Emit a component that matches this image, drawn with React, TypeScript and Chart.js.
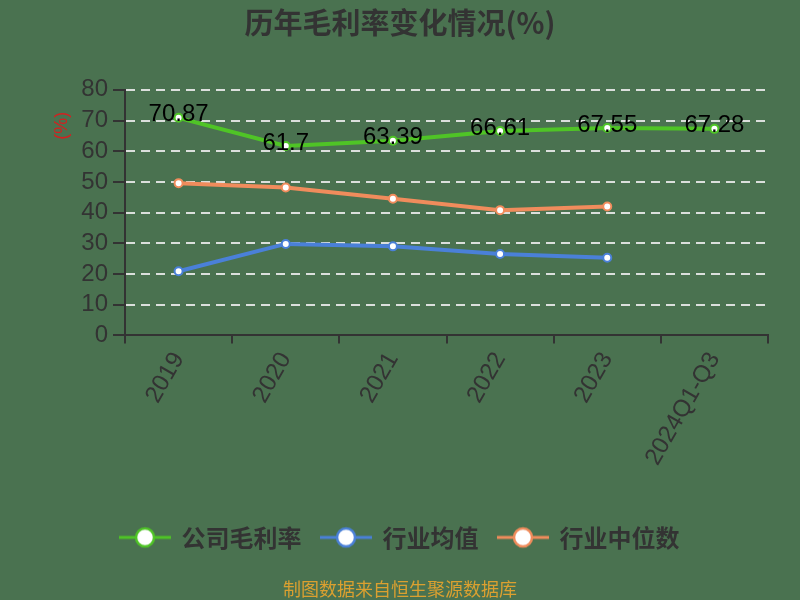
import React, { useEffect, useRef } from "react";
import { Chart, registerables } from "chart.js";

Chart.register(...registerables);

const categories = ["2019", "2020", "2021", "2022", "2023", "2024Q1-Q3"];
const companyMargin = [70.87, 61.7, 63.39, 66.61, 67.55, 67.28];
const industryAvg = [20.9, 29.8, 29.0, 26.5, 25.3, null];
const industryMedian = [49.6, 48.2, 44.5, 40.8, 42.0, null];
const seriesNames = ["公司毛利率", "行业均值", "行业中位数"];
const yTicksMax = 80;

const BG = "#4a7250";
const GREEN = "#4fc426";
const BLUE = "#4a80d8";
const ORANGE = "#f08c5c";
const CJK = '"Noto Sans CJK SC", "DejaVu Sans", sans-serif';
const NUM = '"Liberation Sans", Arial, sans-serif';

function makeIcon(color: string): HTMLCanvasElement {
  const c = document.createElement("canvas");
  c.width = 52;
  c.height = 24;
  const ctx = c.getContext("2d")!;
  ctx.strokeStyle = color;
  ctx.lineWidth = 3;
  ctx.beginPath();
  ctx.moveTo(0, 12);
  ctx.lineTo(52, 12);
  ctx.stroke();
  ctx.beginPath();
  ctx.arc(26, 12, 9, 0, Math.PI * 2);
  ctx.fillStyle = "#ffffff";
  ctx.fill();
  ctx.lineWidth = 2.5;
  ctx.stroke();
  return c;
}

const bgPlugin = {
  id: "bgFill",
  beforeDraw(chart: any) {
    const { ctx, width, height } = chart;
    ctx.save();
    ctx.fillStyle = BG;
    ctx.fillRect(0, 0, width, height);
    ctx.restore();
  },
};

const extrasPlugin = {
  id: "extras",
  afterDatasetsDraw(chart: any) {
    const { ctx, chartArea } = chart;
    const meta = chart.getDatasetMeta(0);
    ctx.save();
    ctx.font = `24px ${NUM}`;
    ctx.fillStyle = "#000000";
    ctx.textAlign = "center";
    ctx.textBaseline = "middle";
    meta.data.forEach((pt: any, i: number) => {
      const v = companyMargin[i];
      if (v == null) return;
      ctx.fillText(String(v), pt.x, pt.y - 3);
    });
    ctx.restore();
    // y axis unit label
    ctx.save();
    ctx.translate(chartArea.left - 63, chartArea.top + 36);
    ctx.rotate(-Math.PI / 2);
    ctx.font = `18px ${NUM}`;
    ctx.fillStyle = "#d42020";
    ctx.textAlign = "center";
    ctx.textBaseline = "middle";
    ctx.fillText("(%)", 0, 0);
    ctx.restore();
  },
};

export default function App() {
  const ref = useRef<HTMLCanvasElement | null>(null);

  useEffect(() => {
    if (!ref.current) return;
    const icons = [makeIcon(GREEN), makeIcon(BLUE), makeIcon(ORANGE)];
    const colors = [GREEN, BLUE, ORANGE];
    const mkSet = (label: string, data: (number | null)[], color: string) => ({
      label,
      data,
      borderColor: color,
      backgroundColor: "#ffffff",
      borderWidth: 4,
      pointRadius: 4,
      pointBorderWidth: 2,
      pointBackgroundColor: "#ffffff",
      pointBorderColor: color,
      yAxisID: "y",
    });
    const chart = new Chart(ref.current, {
      type: "line",
      data: {
        labels: categories,
        datasets: [
          mkSet(seriesNames[0], companyMargin, GREEN),
          mkSet(seriesNames[1], industryAvg, BLUE),
          mkSet(seriesNames[2], industryMedian, ORANGE),
        ],
      },
      options: {
        animation: false,
        responsive: true,
        maintainAspectRatio: false,
        layout: { padding: 0 },
        plugins: {
          title: {
            display: true,
            text: "历年毛利率变化情况(%)",
            color: "#333333",
            font: { family: CJK, size: 29, weight: "bold" },
            padding: { top: 6, bottom: 49 },
          },
          subtitle: {
            display: true,
            position: "bottom",
            text: "制图数据来自恒生聚源数据库",
            color: "#dba030",
            font: { family: CJK, size: 18, weight: "normal" },
            padding: { top: 19, bottom: 0 },
          },
          legend: {
            display: true,
            position: "bottom",
            labels: {
              usePointStyle: true,
              pointStyleWidth: 49,
              padding: 20,
              color: "#333333",
              font: { family: CJK, size: 24, weight: "bold" },
              generateLabels: () =>
                seriesNames.map((name, i) => ({
                  text: name,
                  pointStyle: icons[i],
                  fillStyle: colors[i],
                  strokeStyle: colors[i],
                  lineWidth: 0,
                  hidden: false,
                  datasetIndex: i,
                  fontColor: "#333333",
                })),
            },
          },
          tooltip: { enabled: false },
        },
        scales: {
          x: {
            offset: true,
            afterFit: (s: any) => {
              s.height = 170;
            },
            grid: {
              offset: true,
              drawOnChartArea: false,
              color: "#333333",
              tickColor: "#333333",
              tickLength: 8,
              lineWidth: 2,
            },
            border: { display: true, color: "#333333", width: 2 },
            ticks: {
              color: "#333333",
              font: { family: NUM, size: 24 },
              minRotation: 60,
              maxRotation: 60,
              padding: 4,
              autoSkip: false,
            },
          },
          y: {
            min: 0,
            max: yTicksMax,
            afterFit: (s: any) => {
              s.width = 125;
            },
            grid: {
              color: "rgba(235,235,235,0.9)",
              lineWidth: 2,
              tickColor: "#333333",
              tickLength: 12,
              tickWidth: 2,
              tickBorderDash: [],
            },
            border: { display: true, color: "#333333", width: 2, dash: [9, 6] },
            ticks: {
              stepSize: 10,
              autoSkip: false,
              color: "#333333",
              font: { family: NUM, size: 24 },
              padding: 5,
            },
          },
          spacer: {
            type: "linear",
            position: "right",
            display: true,
            afterFit: (s: any) => {
              s.width = 32;
            },
            grid: { display: false, drawOnChartArea: false },
            border: { display: false },
            ticks: { display: false },
          },
        },
      },
      plugins: [bgPlugin, extrasPlugin],
    });
    return () => chart.destroy();
  }, []);

  return (
    <div
      style={{
        position: "absolute",
        left: 0,
        top: 0,
        width: 800,
        height: 600,
        background: BG,
      }}
    >
      <canvas ref={ref} />
    </div>
  );
}
